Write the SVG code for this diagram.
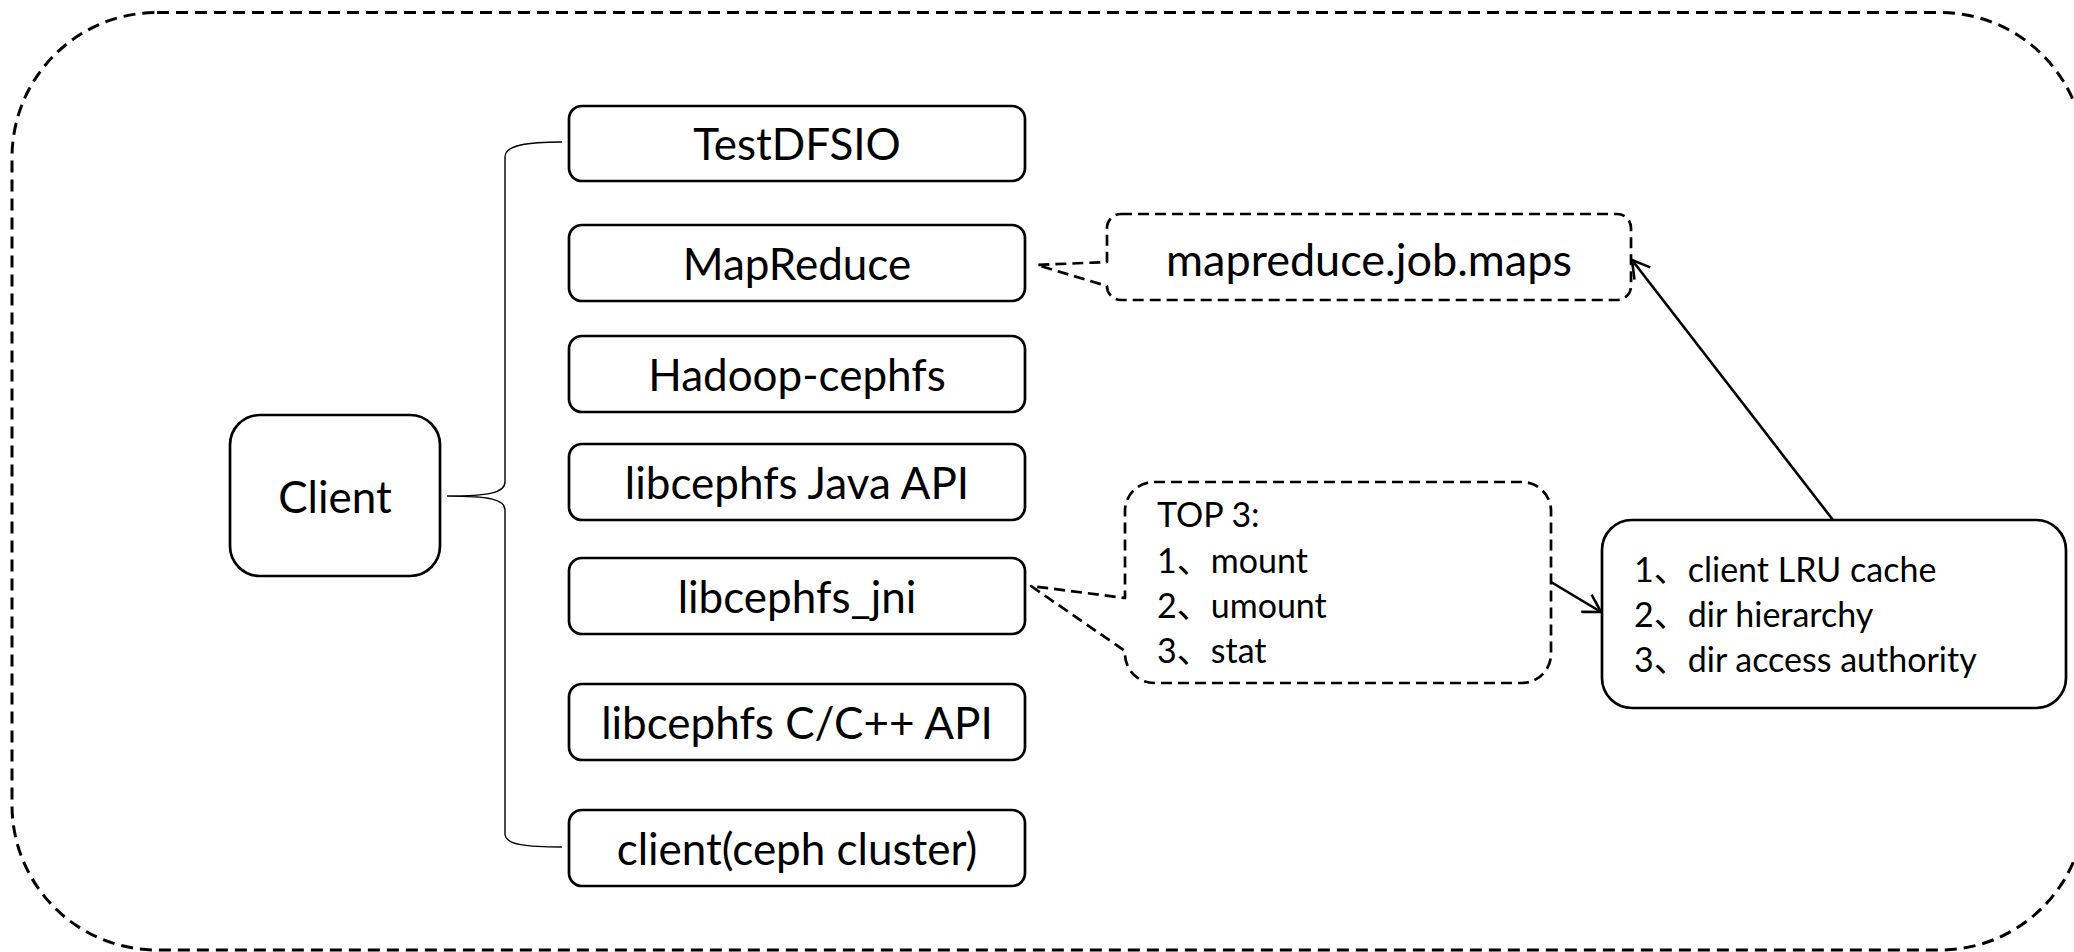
<svg xmlns="http://www.w3.org/2000/svg" width="2074" height="952" viewBox="0 0 2074 952">
  <style>
    .frame { fill: none; stroke: #000; stroke-width: 3; stroke-dasharray: 12 7; }
    .box { fill: #fff; stroke: #000; stroke-width: 2.7; }
    .callout { fill: #fff; stroke: #000; stroke-width: 2.7; stroke-dasharray: 11 6; stroke-linejoin: round; }
    .brace { fill: none; stroke: #000; stroke-width: 1.4; }
    .arrow { fill: none; stroke: #000; stroke-width: 2.6; marker-end: url(#open-arrow); }
    .label { font-family: Lato, "Noto Sans CJK SC", sans-serif; font-size: 44px; fill: #000; text-anchor: middle; }
    .note { font-family: Lato, "Noto Sans CJK SC", "Noto Sans CJK JP", sans-serif; font-size: 34px; fill: #000; }
  </style>
  <defs>
    <marker id="open-arrow" markerUnits="userSpaceOnUse" viewBox="0 0 20 22" markerWidth="20" markerHeight="22" refX="18" refY="11" orient="auto">
      <path d="M1,1 L18,11 L1,21" fill="none" stroke="#000" stroke-width="2.6"/>
    </marker>
  </defs>

  <rect width="2074" height="952" fill="#fff"/>

  <!-- outer dashed frame -->
  <rect class="frame" x="12" y="12.5" width="2073" height="937.5" rx="145" ry="145"/>

  <g id="connectors">
    <!-- brace from Client to the stack -->
    <path class="brace" d="M562,142 C528,142 505,145 505,157 V482 C505,493 488,496 447,496 C488,496 505,499 505,510 V834 C505,845 528,847 562,847"/>
    <!-- cache box to mapreduce.job.maps -->
    <line class="arrow" x1="1833" y1="520" x2="1632" y2="260"/>
    <!-- TOP 3 note to cache box -->
    <line class="arrow" x1="1551" y1="582" x2="1601" y2="612"/>
  </g>

  <g id="client">
    <rect class="box" x="230" y="415" width="210" height="161" rx="30"/>
    <text class="label" x="335" y="513">Client</text>
  </g>

  <g id="testdfsio">
    <rect class="box" x="569" y="106" width="456" height="75" rx="13"/>
    <text class="label" x="797" y="160">TestDFSIO</text>
  </g>

  <g id="mapreduce">
    <rect class="box" x="569" y="225" width="456" height="76" rx="13"/>
    <text class="label" x="797" y="280">MapReduce</text>
  </g>

  <g id="hadoop-cephfs">
    <rect class="box" x="569" y="336" width="456" height="76" rx="13"/>
    <text class="label" x="797" y="391">Hadoop-cephfs</text>
  </g>

  <g id="libcephfs-java">
    <rect class="box" x="569" y="444" width="456" height="76" rx="13"/>
    <text class="label" x="797" y="499">libcephfs Java API</text>
  </g>

  <g id="libcephfs-jni">
    <rect class="box" x="569" y="558" width="456" height="76" rx="13"/>
    <text class="label" x="797" y="613">libcephfs_jni</text>
  </g>

  <g id="libcephfs-c">
    <rect class="box" x="569" y="684" width="456" height="76" rx="13"/>
    <text class="label" x="797" y="739">libcephfs C/C++ API</text>
  </g>

  <g id="client-ceph-cluster">
    <rect class="box" x="569" y="810" width="456" height="76" rx="13"/>
    <text class="label" x="797" y="865">client(ceph cluster)</text>
  </g>

  <g id="mapreduce-job-maps">
    <path class="callout" d="M1121,214 H1617 A14,14 0 0 1 1631,228 V286 A14,14 0 0 1 1617,300 H1121 A14,14 0 0 1 1107,286 L1037,265 L1107,262 V228 A14,14 0 0 1 1121,214 Z"/>
    <text class="label" x="1369" y="276" style="font-size:45px">mapreduce.job.maps</text>
  </g>

  <g id="top3">
    <path class="callout" d="M1154,482 H1522 A29,29 0 0 1 1551,511 V654 A29,29 0 0 1 1522,683 H1154 A29,29 0 0 1 1125,654 V651 L1031,586 L1125,598 V511 A29,29 0 0 1 1154,482 Z"/>
    <text class="note" x="1157" y="527">TOP 3:</text>
    <text class="note" x="1157" y="573">1、mount</text>
    <text class="note" x="1157" y="618">2、umount</text>
    <text class="note" x="1157" y="663">3、stat</text>
  </g>

  <g id="cache-factors">
    <rect class="box" x="1602" y="520" width="464" height="188" rx="30"/>
    <text class="note" x="1634" y="582">1、client LRU cache</text>
    <text class="note" x="1634" y="627">2、dir hierarchy</text>
    <text class="note" x="1634" y="672">3、dir access authority</text>
  </g>
</svg>
